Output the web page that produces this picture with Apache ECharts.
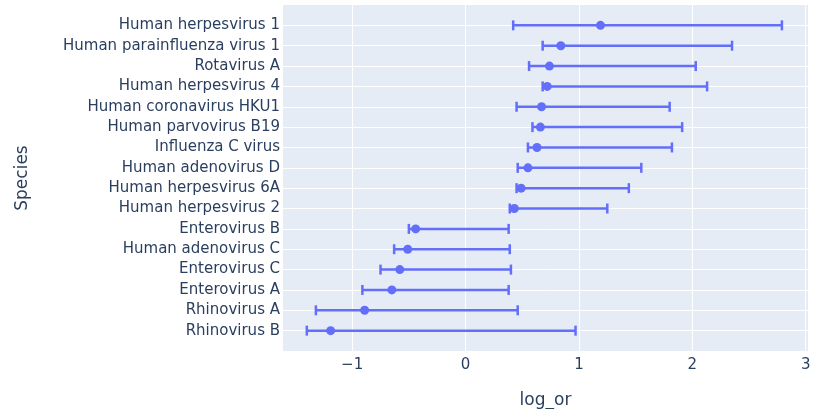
<!DOCTYPE html>
<html>
<head>
<meta charset="utf-8">
<script src="https://cdn.jsdelivr.net/npm/echarts@6/dist/echarts.min.js"></script>
<style>
  html, body { margin: 0; padding: 0; background: #fff; }
  #chart { width: 825px; height: 409px; }
</style>
</head>
<body>
<div id="chart"></div>
<script>
// bottom to top, as drawn
const species = [
  'Rhinovirus B', 'Rhinovirus A', 'Enterovirus A', 'Enterovirus C',
  'Human adenovirus C', 'Enterovirus B', 'Human herpesvirus 2', 'Human herpesvirus 6A',
  'Human adenovirus D', 'Influenza C virus', 'Human parvovirus B19', 'Human coronavirus HKU1',
  'Human herpesvirus 4', 'Rotavirus A', 'Human parainfluenza virus 1', 'Human herpesvirus 1'
];
const logOr  = [-1.19, -0.89, -0.65, -0.58, -0.51, -0.44, 0.43, 0.49, 0.55, 0.63, 0.66, 0.67, 0.72, 0.74, 0.84, 1.19];
const ciLow  = [-1.40, -1.32, -0.91, -0.75, -0.63, -0.50, 0.39, 0.45, 0.46, 0.55, 0.59, 0.45, 0.68, 0.56, 0.68, 0.42];
const ciHigh = [0.97, 0.46, 0.38, 0.40, 0.39, 0.38, 1.25, 1.44, 1.55, 1.82, 1.91, 1.80, 2.13, 2.03, 2.35, 2.79];

const color = '#636efa';
const textColor = '#2a3f5f';
const font = 'DejaVu Sans';

const chart = echarts.init(document.getElementById('chart'));

chart.setOption({
  animation: false,
  textStyle: { fontFamily: font },
  grid: {
    left: 283, right: 17, top: 5, bottom: 58,
    outerBoundsMode: 'none',
    containLabel: false,
    show: true, backgroundColor: '#e5ecf6', borderWidth: 0
  },
  xAxis: {
    type: 'value',
    min: -1.61,
    max: 3.02,
    name: 'log_or',
    nameLocation: 'middle',
    nameGap: 41,
    nameTextStyle: { color: textColor, fontSize: 17, fontFamily: font },
    axisLine: { show: false },
    axisTick: { show: false },
    axisLabel: {
      color: textColor, fontSize: 15, margin: 7, fontFamily: font,
      formatter: function (v) {
        if (Math.abs(v - Math.round(v)) > 1e-6) return '';
        return v < 0 ? '\u2212' + Math.abs(v) : String(v);
      }
    },
    splitLine: { lineStyle: { color: '#fff', width: 1 }, showMinLine: false, showMaxLine: false }
  },
  yAxis: {
    type: 'value',
    min: -1,
    max: 16,
    interval: 1,
    name: 'Species',
    nameLocation: 'middle',
    nameGap: 252,
    nameTextStyle: { color: textColor, fontSize: 17, fontFamily: font },
    axisLine: { show: false },
    axisTick: { show: false },
    axisLabel: {
      color: textColor, fontSize: 15, margin: 3, fontFamily: font,
      formatter: function (v) { return species[v] || ''; }
    },
    splitLine: { lineStyle: { color: '#fff', width: 1 }, showMinLine: false, showMaxLine: false }
  },
  series: [
    {
      type: 'custom',
      data: species.map((s, i) => [ciLow[i], ciHigh[i], i]),
      encode: { x: [0, 1], y: 2 },
      renderItem: function (params, api) {
        const lo = api.coord([api.value(0), api.value(2)]);
        const hi = api.coord([api.value(1), api.value(2)]);
        const cap = 5;
        const style = { stroke: color, lineWidth: 2.5 };
        return {
          type: 'group',
          children: [
            { type: 'line', shape: { x1: lo[0], y1: lo[1], x2: hi[0], y2: hi[1] }, style: style },
            { type: 'line', shape: { x1: lo[0], y1: lo[1] - cap, x2: lo[0], y2: lo[1] + cap }, style: style },
            { type: 'line', shape: { x1: hi[0], y1: hi[1] - cap, x2: hi[0], y2: hi[1] + cap }, style: style }
          ]
        };
      },
      z: 2
    },
    {
      type: 'scatter',
      data: species.map((s, i) => [logOr[i], i]),
      symbol: 'circle',
      symbolSize: 9,
      itemStyle: { color: color, opacity: 1 },
      z: 3
    }
  ]
});
</script>
</body>
</html>
